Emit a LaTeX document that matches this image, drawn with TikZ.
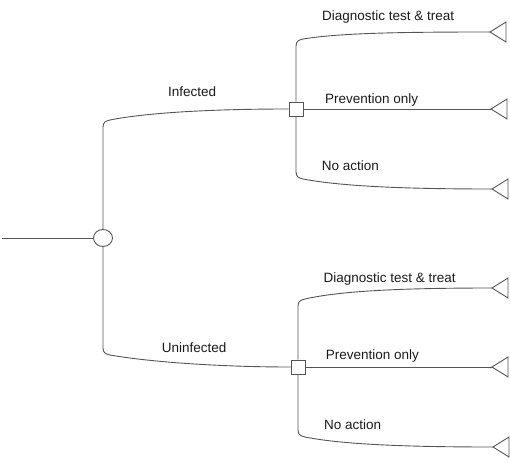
\documentclass[tikz,border=0pt]{standalone}
\usepackage{fontspec}
\setmainfont{Liberation Sans}
\usetikzlibrary{shapes.geometric}
\definecolor{linegray}{HTML}{555555}
\definecolor{textgray}{HTML}{1A1A1A}
\begin{document}
\begin{tikzpicture}[x=1pt,y=-1pt,
  edge/.style={draw=linegray,line width=0.9pt},
  chance/.style={ellipse,draw=linegray,line width=0.9pt,fill=white,minimum width=19pt,minimum height=17pt,inner sep=0pt},
  decision/.style={rectangle,draw=linegray,line width=0.9pt,fill=white,minimum size=14pt,inner sep=0pt},
  term/.style={draw=linegray,line width=0.9pt,line join=miter},
  lbl/.style={anchor=base west,inner sep=0pt,text=textgray,font=\fontsize{13.5}{16}\selectfont}]
\useasboundingbox (0,0) rectangle (510,462);
% nodes
\coordinate (start) at (2,238);
\node[chance] (c) at (103,238) {};
\node[decision] (s1) at (296,109) {};
\node[decision] (s2) at (298,367) {};
\coordinate (t1) at (490,32);
\coordinate (t2) at (491,109);
\coordinate (t3) at (492,189);
\coordinate (t4) at (492,288);
\coordinate (t5) at (492,367);
\coordinate (t6) at (493,447);
% connectors
\draw[edge] (start) -- (c.west);
\draw[edge] (c.north) -- (103,127) .. controls (103,122) and (106,121) .. (110,120) .. controls (150,112) and (220,109) .. (s1.west);
\draw[edge] (c.south) -- (103,348) .. controls (103,353) and (106,354) .. (110,355) .. controls (150,362) and (220,367) .. (s2.west);
\draw[edge] (s1.north) -- (296,46) .. controls (296,41) and (299,40) .. (303,39) .. controls (340,33) and (400,32) .. (t1);
\draw[edge] (s1.east) -- (t2);
\draw[edge] (s1.south) -- (296,172) .. controls (296,177) and (299,178) .. (303,179) .. controls (340,186) and (400,189) .. (t3);
\draw[edge] (s2.north) -- (298,306) .. controls (298,301) and (301,300) .. (305,299) .. controls (340,291) and (400,288) .. (t4);
\draw[edge] (s2.east) -- (t5);
\draw[edge] (s2.south) -- (298,430) .. controls (298,435) and (301,436) .. (305,437) .. controls (340,444) and (400,447) .. (t6);
% terminal triangles
\foreach \t in {t1,t2,t3,t4,t5,t6}{
  \draw[term,fill=white] (\t) -- ++(16,-10) -- ++(0,20) -- cycle;
}
% labels
\node[lbl] (l1) at (168,97) {Infected};
\node[lbl] (l2) at (161.7,352.5) {Uninfected};
\node[lbl] (l3) at (322,21) {Diagnostic test \& treat};
\node[lbl] (l4) at (325,104) {Prevention only};
\node[lbl] (l5) at (321.7,170.5) {No action};
\node[lbl] (l6) at (323.3,282) {Diagnostic test \& treat};
\node[lbl] (l7) at (325.7,359) {Prevention only};
\node[lbl] (l8) at (324,429.5) {No action};
\end{tikzpicture}
\end{document}
